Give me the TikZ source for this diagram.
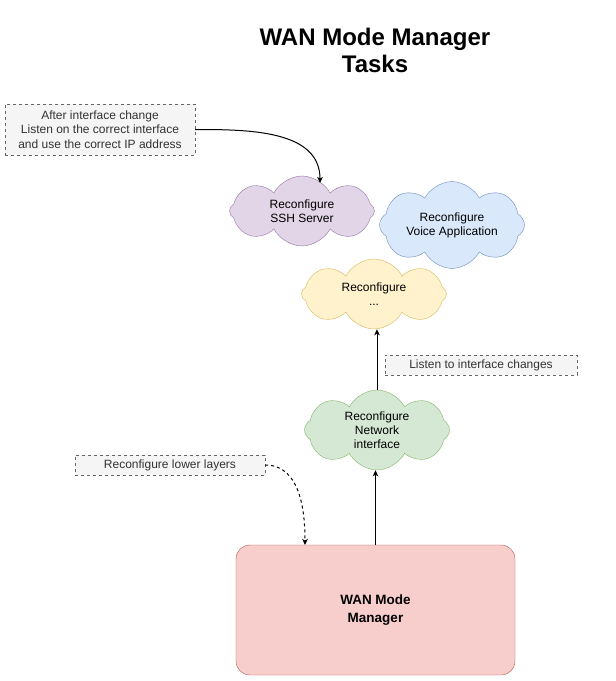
\documentclass[tikz,border=0pt]{standalone}
\usepackage{fontspec}
\setmainfont{Liberation Sans}
\usetikzlibrary{shapes.symbols, arrows.meta, positioning}

\definecolor{notefill}{HTML}{F5F5F5}
\definecolor{noteline}{HTML}{666666}
\definecolor{notetext}{HTML}{333333}
\definecolor{sshfill}{HTML}{E1D5E7}
\definecolor{sshline}{HTML}{9673A6}
\definecolor{voicefill}{HTML}{DAE8FC}
\definecolor{voiceline}{HTML}{6C8EBF}
\definecolor{dotsfill}{HTML}{FFF2CC}
\definecolor{dotsline}{HTML}{D6B656}
\definecolor{netfill}{HTML}{D5E8D4}
\definecolor{netline}{HTML}{82B366}
\definecolor{wanfill}{HTML}{F8CECC}
\definecolor{wanline}{HTML}{B85450}

\tikzset{
  cloudbox/.style={cloud, cloud puffs=8, cloud puff arc=125, aspect=2.1,
    draw, minimum width=145pt, minimum height=70pt, inner sep=0pt,
    align=center, font=\fontsize{12}{14}\selectfont},
  notebox/.style={draw=noteline, dashed, fill=notefill, text=notetext,
    align=center, inner sep=0pt, font=\fontsize{12}{14.5}\selectfont},
  arrowline/.style={-{Stealth[length=6pt,width=5.5pt,inset=1.5pt]}, line width=1pt, black}
}

\begin{document}
\begin{tikzpicture}[x=1pt,y=-1pt]
  \useasboundingbox (0,0) rectangle (616,681);

  % title
  \node[font=\bfseries\fontsize{24}{27}\selectfont, align=center] (title) at (375,50)
    {WAN Mode Manager\\Tasks};

  % notes
  \node[notebox, minimum width=190pt, minimum height=51pt] (afternote) at (100,129.5)
    {After interface change\\Listen on the correct interface\\and use the correct IP address};
  \node[notebox, minimum width=192pt, minimum height=20pt] (listennote) at (481,365)
    {Listen to interface changes};
  \node[notebox, minimum width=190pt, minimum height=20pt] (lowernote) at (170,465)
    {Reconfigure lower layers};

  % clouds
  \node[cloudbox, fill=sshfill, draw=sshline] (ssh) at (302,211) {Reconfigure\\SSH Server};
  \node[cloudbox, fill=voicefill, draw=voiceline] (voice) at (452,225) {Reconfigure\\Voice Application};
  \node[cloudbox, fill=dotsfill, draw=dotsline] (dots) at (374,294) {Reconfigure\\...};
  \node[cloudbox, fill=netfill, draw=netline, minimum height=80pt] (net) at (377,430)
    {Reconfigure\\Network\\interface};

  % manager
  \node[draw=wanline, fill=wanfill, rounded corners=14pt, minimum width=279pt,
    minimum height=130pt, align=center, font=\bfseries\fontsize{13.5}{18}\selectfont]
    (wan) at (375.5,610) {WAN Mode\\Manager};

  \coordinate (sshin) at (320,183);
  \coordinate (wanin) at (305,545);

  % connectors
  \draw[arrowline] (afternote.east) to[out=0,in=90] (sshin);
  \draw[arrowline, dashed] (lowernote.east) to[out=0,in=90] (wanin);
  \draw[arrowline] (wan.north) -- (wan.north |- net.south);
  \draw[arrowline] (net.north) -- (net.north |- dots.south);
\end{tikzpicture}
\end{document}
